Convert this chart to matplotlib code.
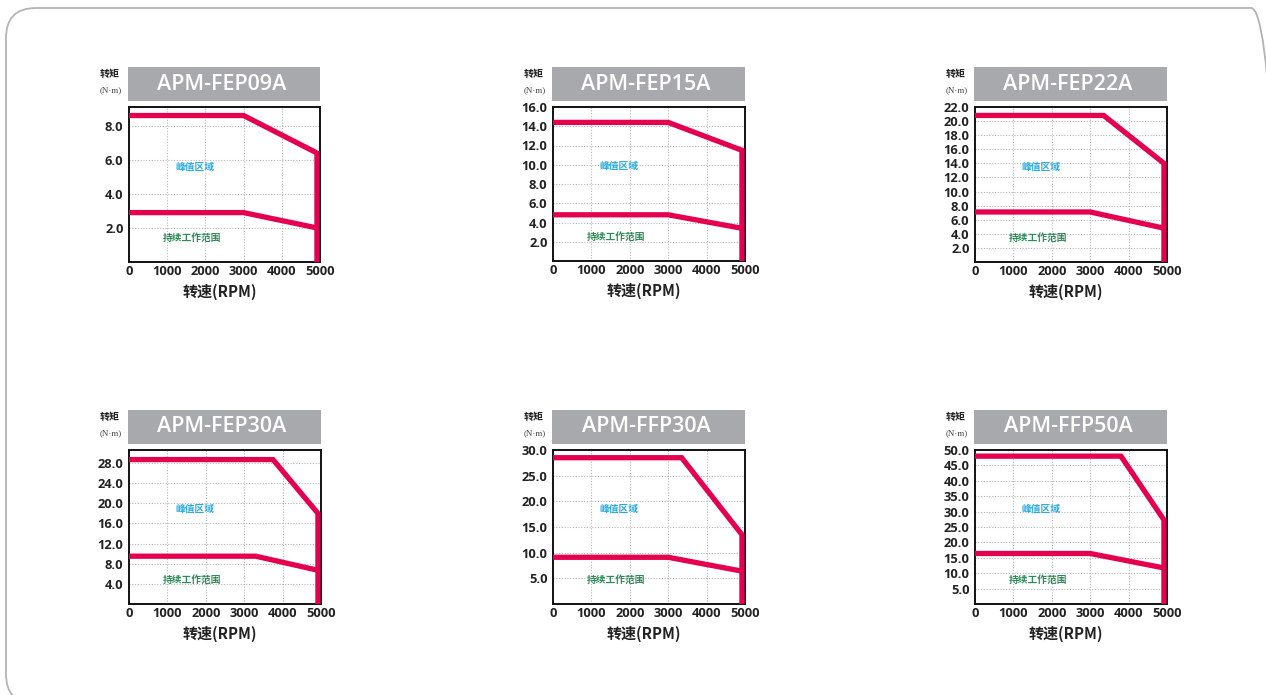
import matplotlib
matplotlib.use('Agg')
import matplotlib.pyplot as plt
from matplotlib.patches import Rectangle, FancyBboxPatch
from matplotlib.transforms import IdentityTransform

W, H = 1266, 695

# ---------------- data ----------------
models = ["APM-FEP09A", "APM-FEP15A", "APM-FEP22A",
          "APM-FEP30A", "APM-FFP30A", "APM-FFP50A"]
speed_ticks = [0, 1000, 2000, 3000, 4000, 5000]
torque_ticks = [
    [2, 4, 6, 8],
    [2, 4, 6, 8, 10, 12, 14, 16],
    [2, 4, 6, 8, 10, 12, 14, 16, 18, 20, 22],
    [4, 8, 12, 16, 20, 24, 28],
    [5, 10, 15, 20, 25, 30],
    [5, 10, 15, 20, 25, 30, 35, 40, 45, 50],
]
torque_max = [9.1, 16.0, 22.0, 30.6, 30.0, 50.0]

peak_speed = [
    [0, 3000, 4920, 4920],
    [0, 3000, 4920, 4920],
    [0, 3350, 4920, 4920],
    [0, 3750, 4920, 4920],
    [0, 3350, 4920, 4920],
    [0, 3800, 4920, 4920],
]
peak_torque = [
    [8.6, 8.6, 6.4, 0],
    [14.4, 14.4, 11.5, 0],
    [20.8, 20.8, 14.0, 0],
    [28.7, 28.7, 18.0, 0],
    [28.5, 28.5, 13.5, 0],
    [48.0, 48.0, 27.3, 0],
]
cont_speed = [
    [0, 3000, 4920],
    [0, 3000, 4920],
    [0, 3000, 4920],
    [0, 3300, 4920],
    [0, 3000, 4920],
    [0, 3000, 4920],
]
cont_torque = [
    [2.9, 2.9, 2.0],
    [4.8, 4.8, 3.4],
    [7.1, 7.1, 4.8],
    [9.5, 9.5, 6.7],
    [9.1, 9.1, 6.4],
    [16.4, 16.4, 11.7],
]

peak_label = "峰值区域"
cont_label = "持续工作范围"
x_label = "转速(RPM)"
y_label = "转矩"
y_unit = "(N·m)"

# ---------------- style ----------------
RED = "#e5004f"
GRAY = "#a7a9ac"
BLUE = "#29abe2"
GREEN = "#2e8b57"
CJK = ["Noto Sans CJK SC", "DejaVu Sans"]
NUM = ["Open Sans", "DejaVu Sans"]

# axes boxes in pixels: (left, top, right, bottom)
boxes = [
    (129, 107, 320, 262),
    (553, 107, 745, 261),
    (975, 107, 1167, 262),
    (129, 450, 321, 604),
    (553, 450, 745, 604),
    (975, 450, 1167, 604),
]

fig = plt.figure(figsize=(W / 100, H / 100), dpi=100)
fig.patch.set_facecolor("white")

# outer rounded frame
frame = FancyBboxPatch((6, H - 704), 1275, 696,
                       boxstyle="round,pad=0,rounding_size=30",
                       transform=IdentityTransform(), facecolor="none",
                       edgecolor="#b4b4b4", linewidth=1.3)
fig.add_artist(frame)


def fx(x):
    return x / W


def fy(y):
    return 1 - y / H


for i, (l, t, r, b) in enumerate(boxes):
    ax = fig.add_axes([fx(l), fy(b), fx(r) - fx(l), fy(t) - fy(b)])
    ax.set_xlim(0, 5000)
    ax.set_ylim(0, torque_max[i])
    ax.set_xticks(speed_ticks)
    ax.set_yticks(torque_ticks[i])
    ax.set_xticklabels([str(v) for v in speed_ticks], family=NUM,
                       weight="bold", fontsize=9.3)
    ax.set_yticklabels([f"{v:.1f}" for v in torque_ticks[i]], family=NUM,
                       weight="bold", fontsize=9.3)
    ax.tick_params(length=0, pad=2, colors="#222222")
    ax.tick_params(axis="y", pad=4)
    for s in ax.spines.values():
        s.set_linewidth(1.4)
        s.set_color("#111111")
    # grid
    for v in speed_ticks[1:-1]:
        ax.axvline(v, color="#b8b8b8", lw=0.8, ls=(0, (1, 1.5)), zorder=1)
    for v in torque_ticks[i]:
        if v < torque_max[i] - 1e-9:
            ax.axhline(v, color="#b8b8b8", lw=0.8, ls=(0, (1, 1.5)), zorder=1)

    ax.plot(peak_speed[i], peak_torque[i], color=RED, lw=3.8,
            solid_joinstyle="miter", solid_capstyle="butt", zorder=3)
    ax.plot(cont_speed[i], cont_torque[i], color=RED, lw=3.8,
            solid_joinstyle="miter", solid_capstyle="butt", zorder=3)

    ax.text(0.345, 0.615, peak_label, transform=ax.transAxes, color=BLUE,
            family=CJK, fontsize=7, weight="bold", ha="center", va="center")
    ax.text(0.33, 0.155, cont_label, transform=ax.transAxes, color=GREEN,
            family=CJK, fontsize=7, weight="bold", ha="center", va="center")

    # x-axis label
    fig.text(fx((l + r) / 2 - 5), fy(b + 30), x_label, family=CJK,
             fontsize=10.8, weight="bold", ha="center", va="center",
             color="#222222")

    # title bar
    fig.add_artist(Rectangle((fx(l - 1), fy(t - 6)), fx(r) - fx(l - 1),
                             fy(t - 40) - fy(t - 6), transform=fig.transFigure,
                             facecolor=GRAY, edgecolor="none"))
    fig.text(fx((l + r) / 2 - 3), fy(t - 23), models[i], color="white",
             family=NUM, fontsize=15.5, weight="semibold",
             ha="center", va="center")
    fig.text(fx(l - 19), fy(t - 33), y_label, family=CJK, fontsize=7.2,
             weight="bold", ha="center", va="center", color="#222222")
    fig.text(fx(l - 18), fy(t - 17), y_unit,
             family=["Liberation Serif", "DejaVu Serif"], fontsize=6.5,
             ha="center", va="center", color="#444444")

fig.savefig("out.png", dpi=100)
